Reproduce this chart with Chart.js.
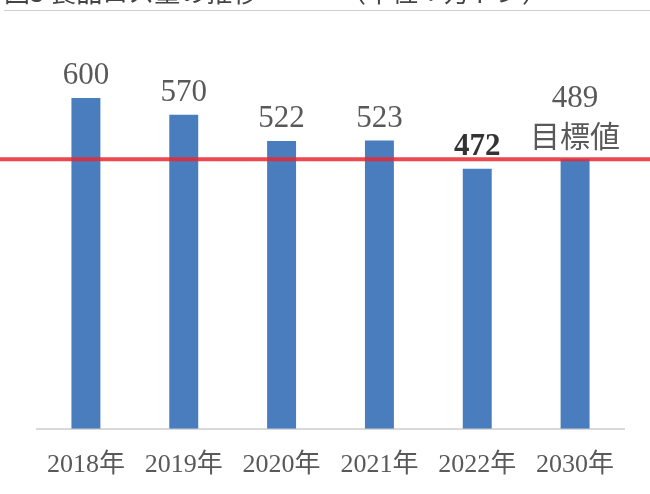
<!DOCTYPE html>
<html>
<head>
<meta charset="utf-8">
<script src="https://cdn.jsdelivr.net/npm/chart.js@4"></script>
<style>
  body { margin: 0; background: #fff; }
  #wrap { position: relative; width: 650px; height: 494px; overflow: hidden; }
  .title { position: absolute; top: -28px; font: 26px "Noto Sans CJK JP"; color: #444; white-space: nowrap; }
  #rule { position: absolute; top: 10px; left: 4px; right: 0; height: 1px; background: #d0d0d0; }
</style>
</head>
<body>
<div id="wrap">
  <div class="title" style="left:4px">図3 食品ロス量の推移</div>
  <div class="title" style="left:340px">（単位：万トン）</div>
  <div id="rule"></div>
  <canvas id="lossChart"></canvas>
</div>
<script>
const years = ['2018年', '2019年', '2020年', '2021年', '2022年', '2030年'];
const lossValues = [600, 570, 522, 523, 472, 489];
const notes = ['', '', '', '', '', '目標値'];
const targetValue = 489;
const highlightYear = '2022年';

const serif = '"Liberation Serif", "Noto Sans CJK JP"';

const valueLabels = {
    id: 'valueLabels',
    afterDatasetsDraw(chart) {
        const ctx = chart.ctx;
        const meta = chart.getDatasetMeta(0);
        ctx.save();
        ctx.textAlign = 'center';
        ctx.textBaseline = 'alphabetic';
        meta.data.forEach((bar, i) => {
            const strong = years[i] === highlightYear;
            ctx.fillStyle = strong ? '#333' : '#595959';
            let y = bar.y - 14;
            if (notes[i]) {
                ctx.font = '30px "Noto Sans CJK JP"';
                ctx.fillText(notes[i], bar.x, y + 2);
                y -= 38;
            }
            ctx.font = (strong ? 'bold ' : '') + '31px ' + serif;
            ctx.fillText(String(lossValues[i]), bar.x, y);
        });
        // target line across the whole width
        const ty = chart.scales.y.getPixelForValue(targetValue);
        ctx.strokeStyle = 'rgba(232, 40, 50, 0.85)';
        ctx.lineWidth = 4;
        ctx.beginPath();
        ctx.moveTo(0, ty);
        ctx.lineTo(chart.width, ty);
        ctx.stroke();
        ctx.restore();
    }
};

const ctx = document.getElementById('lossChart').getContext('2d');
new Chart(ctx, {
    type: 'bar',
    data: {
        labels: years,
        datasets: [{
            data: lossValues,
            backgroundColor: '#4a7dbd',
            barPercentage: 0.296,
            categoryPercentage: 1
        }]
    },
    options: {
        responsive: true,
        maintainAspectRatio: false,
        animation: false,
        layout: { padding: { left: 37, right: 26, top: 43, bottom: 0 } },
        scales: {
            y: { display: false, min: 0, max: 700 },
            x: {
                grid: { display: false },
                border: { color: '#d9d9d9', width: 2 },
                ticks: { color: '#595959', font: { family: serif, size: 26 }, padding: 13 }
            }
        },
        plugins: {
            legend: { display: false },
            tooltip: { enabled: false }
        }
    },
    plugins: [valueLabels]
});
</script>
</body>
</html>
